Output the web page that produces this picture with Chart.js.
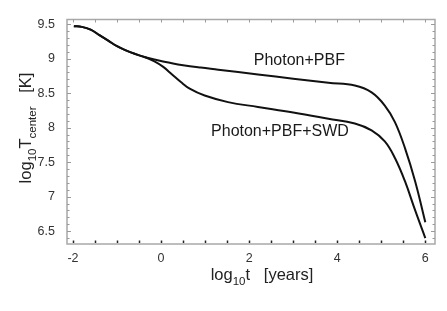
<!DOCTYPE html>
<html>
<head>
<meta charset="utf-8">
<script src="https://cdn.jsdelivr.net/npm/chart.js@4/dist/chart.umd.min.js"></script>
<style>
  html, body { margin: 0; padding: 0; background: #fff; }
  #wrap { width: 447px; height: 311px; }
</style>
</head>
<body>
<div id="wrap"><canvas id="c" width="447" height="311"></canvas></div>
<script>
// ---- data ----
const seriesNames = ["Photon+PBF", "Photon+PBF+SWD"];
const pbfLogT = [-1.98, -1.8, -1.6, -1.4, -1.2, -1.0, -0.8, -0.6, -0.36, -0.1, 0.2, 0.5, 0.9, 1.3, 2.2, 3.0, 3.8, 4.4, 4.78, 5.08, 5.31, 5.54, 5.77, 6.0];
const pbfLogTc = [9.47, 9.46, 9.42, 9.34, 9.26, 9.18, 9.12, 9.07, 9.02, 8.98, 8.94, 8.905, 8.87, 8.84, 8.77, 8.71, 8.65, 8.61, 8.51, 8.32, 8.08, 7.70, 7.22, 6.63];
const swdLogT = [-1.98, -1.8, -1.6, -1.4, -1.2, -1.0, -0.8, -0.6, -0.36, -0.15, 0.05, 0.25, 0.45, 0.65, 0.99, 1.52, 2.2, 3.0, 3.8, 4.4, 4.78, 5.08, 5.31, 5.54, 5.77, 6.0];
const swdLogTc = [9.47, 9.46, 9.42, 9.34, 9.26, 9.18, 9.12, 9.07, 9.02, 8.96, 8.88, 8.77, 8.66, 8.565, 8.465, 8.37, 8.30, 8.22, 8.13, 8.06, 7.96, 7.80, 7.56, 7.22, 6.80, 6.40];
const xTickValues = [-2, 0, 2, 4, 6];
const yTickValues = [6.5, 7, 7.5, 8, 8.5, 9, 9.5];

const FONT = "'Liberation Sans', Arial, Helvetica, sans-serif";

function toPoints(xs, ys) { return xs.map((x, i) => ({ x: x, y: ys[i] })); }

function drawRich(ctx, parts, x, y, size, subSize, subDrop) {
  let w = 0;
  parts.forEach(p => {
    ctx.font = (p.sub ? subSize : size) + "px " + FONT;
    p.w = ctx.measureText(p.t).width;
    w += p.w;
  });
  let cx = x - w / 2;
  ctx.textAlign = "left";
  ctx.textBaseline = "alphabetic";
  parts.forEach(p => {
    ctx.font = (p.sub ? subSize : size) + "px " + FONT;
    ctx.fillText(p.t, cx, p.sub ? y + subDrop : y);
    cx += p.w;
  });
}

const decor = {
  id: "decor",
  afterDatasetsDraw(chart, args, opts) {
    const ctx = chart.ctx;
    const a = chart.chartArea;
    const xs = chart.scales.x, ys = chart.scales.y;
    ctx.save();
    ctx.strokeStyle = "#a8a8a8";
    ctx.lineWidth = 1.5;
    ctx.strokeRect(a.left, a.top, a.right - a.left, a.bottom - a.top);
    ctx.lineWidth = 1;
    ctx.strokeStyle = "#9a9a9a";
    for (let k = 64; k <= 95; k++) {
      const v = k / 10;
      const py = Math.round(ys.getPixelForValue(v)) + 0.5;
      if (py < a.top || py > a.bottom) continue;
      const len = (k % 5 === 0) ? 4 : 2.5;
      ctx.beginPath(); ctx.moveTo(a.left, py); ctx.lineTo(a.left + len, py); ctx.stroke();
      ctx.beginPath(); ctx.moveTo(a.right, py); ctx.lineTo(a.right - len, py); ctx.stroke();
    }
    for (let k = -4; k <= 12; k++) {
      const v = k / 2;
      const px = Math.round(xs.getPixelForValue(v)) + 0.5;
      ctx.strokeStyle = "#222";
      ctx.lineWidth = 1.5;
      ctx.beginPath(); ctx.moveTo(px, a.bottom - 1); ctx.lineTo(px, a.bottom - 3.5); ctx.stroke();
      ctx.strokeStyle = "#9a9a9a";
      ctx.lineWidth = 1;
      ctx.beginPath(); ctx.moveTo(px, a.top); ctx.lineTo(px, a.top + 3); ctx.stroke();
    }
    ctx.fillStyle = "#1a1a1a";
    ctx.font = "16px " + FONT;
    ctx.textAlign = "center";
    ctx.textBaseline = "middle";
    (opts.labels || []).forEach(l => {
      ctx.fillText(l.text, xs.getPixelForValue(l.x), ys.getPixelForValue(l.y));
    });
    ctx.fillStyle = "#222";
    drawRich(ctx, [{t: "log"}, {t: "10", sub: true}, {t: "t   [years]"}], 262, 280, 16.5, 11.5, 5);
    ctx.translate(25, 128);
    ctx.rotate(-Math.PI / 2);
    drawRich(ctx, [{t: "log"}, {t: "10", sub: true}, {t: "T"}, {t: "center", sub: true}, {t: "   [K]"}], 0, 6, 16.5, 11.5, 5);
    ctx.restore();
  }
};

new Chart(document.getElementById("c"), {
  type: "line",
  data: {
    datasets: [
      { label: seriesNames[0], data: toPoints(pbfLogT, pbfLogTc), borderColor: "#111", borderWidth: 2, pointRadius: 0, tension: 0.4, fill: false },
      { label: seriesNames[1], data: toPoints(swdLogT, swdLogTc), borderColor: "#111", borderWidth: 2, pointRadius: 0, tension: 0.4, fill: false }
    ]
  },
  options: {
    responsive: false,
    animation: false,
    devicePixelRatio: 1,
    layout: { padding: { top: 16, right: 12, left: 0, bottom: 0 } },
    plugins: {
      legend: { display: false },
      tooltip: { enabled: false },
      decor: {
        labels: [
          { text: seriesNames[0], x: 3.14, y: 8.97 },
          { text: seriesNames[1], x: 2.70, y: 7.94 }
        ]
      }
    },
    scales: {
      x: {
        type: "linear",
        min: -2.136, max: 6.22,
        grid: { display: false, drawTicks: false },
        border: { display: false },
        afterBuildTicks: s => { s.ticks = xTickValues.map(v => ({ value: v })); },
        afterFit: s => { s.height = 67; },
        ticks: { padding: 7, color: "#333", font: { family: FONT, size: 12.5 }, maxRotation: 0, autoSkip: false, callback: v => String(v) }
      },
      y: {
        type: "linear",
        min: 6.314, max: 9.567,
        grid: { display: false, drawTicks: false },
        border: { display: false },
        afterBuildTicks: s => { s.ticks = yTickValues.map(v => ({ value: v })); },
        afterFit: s => { s.width = 67; },
        ticks: { padding: 12, color: "#333", font: { family: FONT, size: 12.5 }, autoSkip: false, callback: v => String(v) }
      }
    }
  },
  plugins: [decor]
});
</script>
</body>
</html>
